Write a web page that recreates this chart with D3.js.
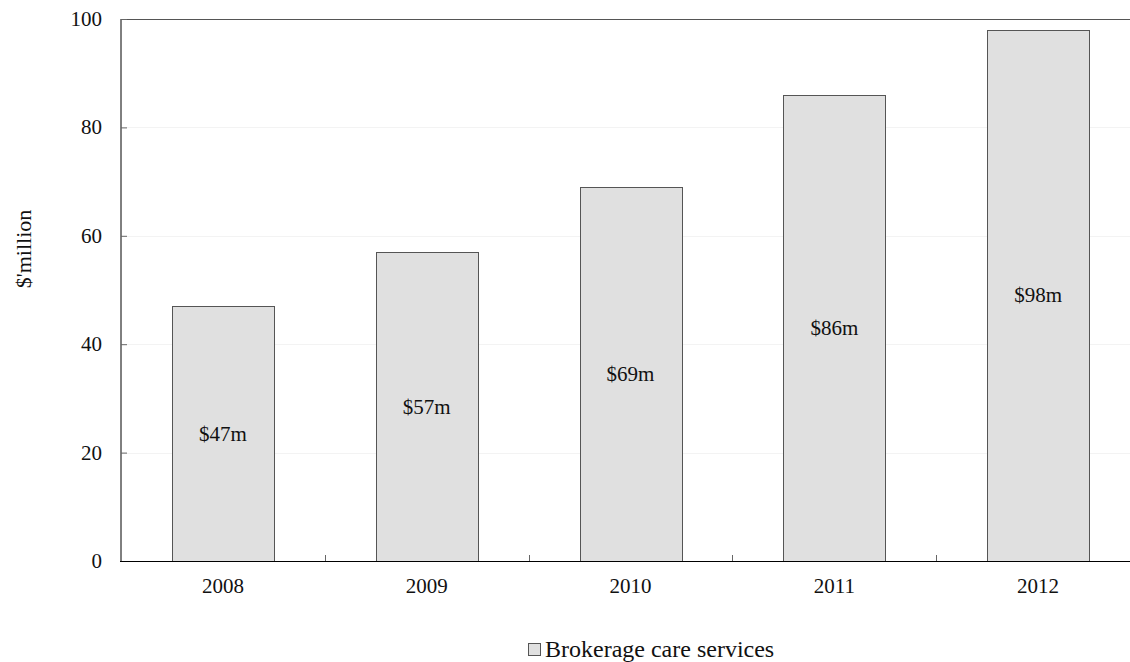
<!DOCTYPE html>
<html>
<head>
<meta charset="utf-8">
<script src="https://cdn.jsdelivr.net/npm/d3@7/dist/d3.min.js"></script>
<style>
  html, body { margin: 0; padding: 0; background: #fff; overflow: hidden; }
  svg { display: block; font-family: "Liberation Serif", "Times New Roman", serif; }
</style>
</head>
<body>
<svg id="chart" width="1130" height="662"></svg>
<script>
// Annual spending on brokerage care services
const years = ["2008", "2009", "2010", "2011", "2012"];
const spending = [47, 57, 69, 86, 98];
const valueLabels = ["$47m", "$57m", "$69m", "$86m", "$98m"];
const yTicks = [0, 20, 40, 60, 80, 100];
const seriesName = "Brokerage care services";
const yTitle = "$'million";

const svg = d3.select("#chart");
const width = 1130, height = 662;
// the plot area runs slightly past the right edge of the canvas
const x0 = 121, x1 = 1140;
const y0 = 561, y1 = 19;

const x = d3.scaleBand().domain(years).range([x0, x1])
  .paddingInner(0.5).paddingOuter(0.25);
const y = d3.scaleLinear().domain([0, 100]).range([y0, y1]);

// faint horizontal gridlines
svg.append("g").selectAll("line")
  .data(yTicks.filter(v => v > 0 && v < 100))
  .join("line")
  .attr("x1", x0).attr("x2", x1)
  .attr("y1", d => Math.round(y(d)) + 0.5).attr("y2", d => Math.round(y(d)) + 0.5)
  .attr("stroke", "#f3f3f3").attr("stroke-width", 1);

// top frame line
svg.append("line")
  .attr("x1", x0).attr("x2", x1)
  .attr("y1", Math.round(y(100)) + 0.5).attr("y2", Math.round(y(100)) + 0.5)
  .attr("stroke", "#555").attr("stroke-width", 1);

// bars
svg.append("g").selectAll("rect")
  .data(years)
  .join("rect")
  .attr("x", d => Math.round(x(d)) + 0.5)
  .attr("width", Math.round(x.bandwidth()))
  .attr("y", (d, i) => Math.round(y(spending[i])) + 0.5)
  .attr("height", (d, i) => Math.round(y0) - Math.round(y(spending[i])))
  .attr("fill", "#e0e0e0")
  .attr("stroke", "#555")
  .attr("stroke-width", 1);

// value labels inside bars
svg.append("g").selectAll("text")
  .data(years)
  .join("text")
  .attr("x", d => x(d) + x.bandwidth() / 2)
  .attr("y", (d, i) => (y(spending[i]) + y0) / 2 + 7)
  .attr("text-anchor", "middle")
  .attr("font-size", 21)
  .attr("fill", "#111")
  .text((d, i) => valueLabels[i]);

// y axis
const yAxis = svg.append("g").attr("transform", `translate(${x0 - 0.5},0)`)
  .call(d3.axisRight(y).tickValues(yTicks).tickSize(6).tickFormat(""));
yAxis.select(".domain").attr("stroke", "#000").attr("d", `M0.5,${y1}V${y0}`);
yAxis.selectAll(".tick line").attr("stroke", "#666").attr("x1", 0.5).attr("x2", 6.5);

svg.append("g").selectAll("text")
  .data(yTicks)
  .join("text")
  .attr("x", 102)
  .attr("y", d => y(d) + 7)
  .attr("text-anchor", "end")
  .attr("font-size", 21)
  .attr("fill", "#111")
  .text(d => d);

// x axis with ticks between categories
const step = x.step();
const boundaries = years.slice(1).map(d => x(d) - (step - x.bandwidth()) / 2);
svg.append("line")
  .attr("x1", x0 - 1).attr("x2", x1)
  .attr("y1", y0 + 0.5).attr("y2", y0 + 0.5)
  .attr("stroke", "#000").attr("stroke-width", 1.2);
svg.append("g").selectAll("line")
  .data(boundaries)
  .join("line")
  .attr("x1", d => Math.round(d) + 0.5).attr("x2", d => Math.round(d) + 0.5)
  .attr("y1", y0).attr("y2", y0 - 6)
  .attr("stroke", "#666");

svg.append("g").selectAll("text")
  .data(years)
  .join("text")
  .attr("x", d => x(d) + x.bandwidth() / 2)
  .attr("y", y0 + 32)
  .attr("text-anchor", "middle")
  .attr("font-size", 21)
  .attr("fill", "#111")
  .text(d => d);

// y axis title
svg.append("text")
  .attr("transform", "translate(31,249) rotate(-90)")
  .attr("text-anchor", "middle")
  .attr("font-size", 22)
  .attr("fill", "#111")
  .text(yTitle);

// legend
const legend = svg.append("g").attr("transform", "translate(528,643)");
legend.append("rect")
  .attr("x", 0.5).attr("y", 0.5).attr("width", 12).attr("height", 12)
  .attr("fill", "#e0e0e0").attr("stroke", "#555");
legend.append("text")
  .attr("x", 17).attr("y", 14)
  .attr("font-size", 24)
  .attr("fill", "#111")
  .text(seriesName);
</script>
</body>
</html>
